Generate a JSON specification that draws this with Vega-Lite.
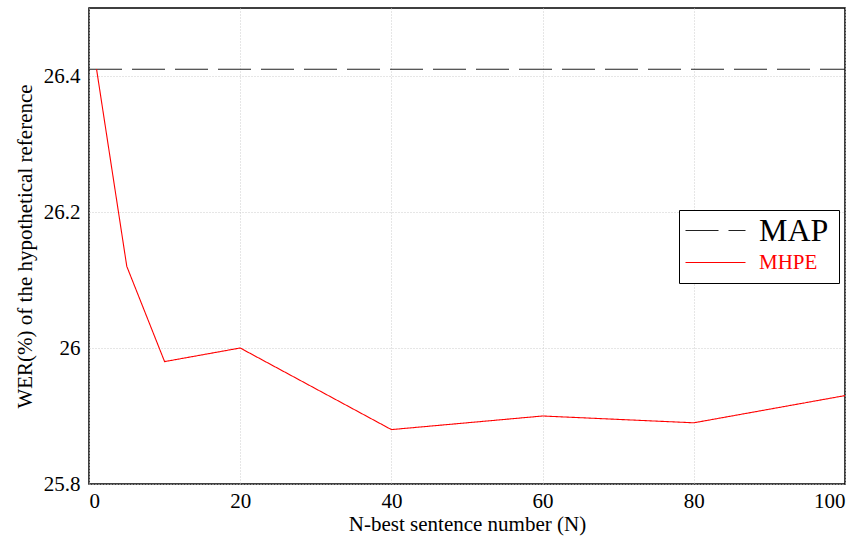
{
  "$schema": "https://vega.github.io/schema/vega-lite/v6.json",
  "width": 756,
  "height": 476,
  "autosize": "none",
  "padding": {"left": 89, "top": 8, "right": 18, "bottom": 54},
  "background": "white",
  "config": {
    "view": {"stroke": "black", "strokeWidth": 1.5},
    "font": "Liberation Serif, DejaVu Serif, serif"
  },
  "data": {
    "values": [
      {"N": 0, "wer": 26.41, "series": "MAP"},
      {"N": 100, "wer": 26.41, "series": "MAP"},
      {"N": 1, "wer": 26.41, "series": "MHPE"},
      {"N": 5, "wer": 26.12, "series": "MHPE"},
      {"N": 10, "wer": 25.98, "series": "MHPE"},
      {"N": 20, "wer": 26.0, "series": "MHPE"},
      {"N": 40, "wer": 25.88, "series": "MHPE"},
      {"N": 60, "wer": 25.9, "series": "MHPE"},
      {"N": 80, "wer": 25.89, "series": "MHPE"},
      {"N": 100, "wer": 25.93, "series": "MHPE"}
    ]
  },
  "mark": {"type": "line", "strokeWidth": 1.1, "clip": true},
  "encoding": {
    "x": {
      "field": "N", "type": "quantitative",
      "scale": {"domain": [0, 100], "nice": false},
      "axis": {
        "values": [0, 20, 40, 60, 80, 100],
        "title": "N-best sentence number (N)",
        "titleFont": "Liberation Serif, DejaVu Serif, serif", "titleFontSize": 21, "titleFontWeight": "normal", "titleColor": "black",
        "labelFont": "Liberation Serif, DejaVu Serif, serif", "labelFontSize": 21, "labelColor": "black",
        "labelPadding": 6, "titlePadding": 2,
        "domain": false, "ticks": false,
        "grid": true, "gridDash": [1, 2], "gridColor": "#cccccc", "gridWidth": 1
      }
    },
    "y": {
      "field": "wer", "type": "quantitative",
      "scale": {"domain": [25.8, 26.5], "nice": false, "zero": false},
      "axis": {
        "values": [25.8, 26.0, 26.2, 26.4],
        "format": ".1~f",
        "title": "WER(%) of the hypothetical reference",
        "titleFont": "Liberation Serif, DejaVu Serif, serif", "titleFontSize": 21, "titleFontWeight": "normal", "titleColor": "black",
        "labelFont": "Liberation Serif, DejaVu Serif, serif", "labelFontSize": 21, "labelColor": "black",
        "labelPadding": 9, "titlePadding": 8,
        "domain": false, "ticks": false,
        "grid": true, "gridDash": [1, 2], "gridColor": "#cccccc", "gridWidth": 1
      }
    },
    "color": {
      "field": "series", "type": "nominal",
      "scale": {"domain": ["MAP", "MHPE"], "range": ["#222222", "#ff0000"]},
      "legend": {
        "title": null,
        "orient": "none",
        "legendX": 590,
        "legendY": 202,
        "strokeColor": "black",
        "fillColor": "white",
        "padding": 10,
        "symbolType": "M-2.8,0H9.2",
        "symbolSize": 100,
        "symbolStrokeWidth": 1.2,
        "symbolFillColor": "transparent",
        "labelOffset": 49,
        "labelFont": "Liberation Serif, DejaVu Serif, serif",
        "labelFontSize": 21,
        "rowPadding": 4,
        "encode": {
          "labels": {
            "update": {
              "fontSize": {"signal": "datum.value === 'MAP' ? 32 : 21"},
              "fill": {"signal": "datum.value === 'MAP' ? 'black' : '#ff0000'"}
            }
          }
        }
      }
    },
    "strokeDash": {
      "field": "series", "type": "nominal",
      "scale": {"domain": ["MAP", "MHPE"], "range": [[33, 10], [1, 0]]},
      "legend": null
    }
  }
}
